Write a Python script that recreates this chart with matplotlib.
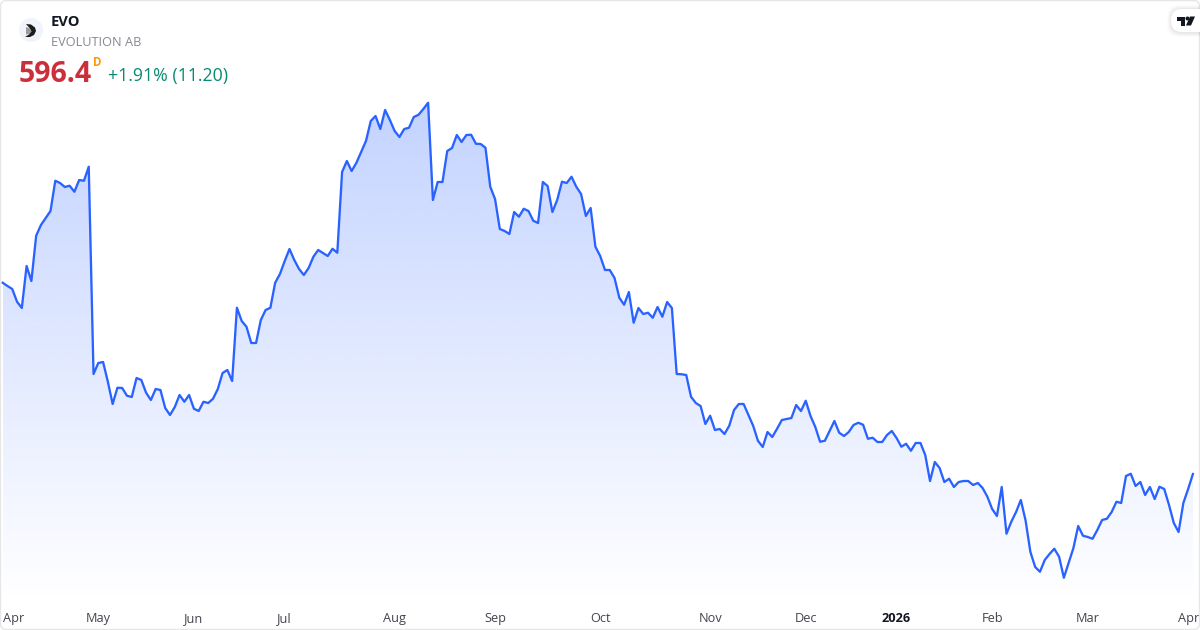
import numpy as np
import matplotlib
matplotlib.use('Agg')
import matplotlib.pyplot as plt
from matplotlib.colors import to_rgb
from matplotlib.patches import Circle, FancyBboxPatch, Polygon

plt.rcParams['font.family'] = ['Open Sans', 'DejaVu Sans']

# Daily closes, split by month label
apr_25 = [749.4, 746.8, 744.4, 734.2, 729.2, 762.8, 750.8, 787.0, 795.6, 801.2,
          806.8, 831.0, 829.2, 826.0, 827.0, 822.2, 831.6, 831.0, 842.2, 676.4]
may_25 = [685.2, 686.0, 670.2, 652.4, 665.4, 665.2, 659.0, 658.0, 673.2, 671.6,
          661.4, 655.6, 664.4, 663.6, 649.2, 643.6, 650.0, 659.6, 654.2, 659.6]
jun_25 = [648.6, 646.8, 654.2, 653.2, 656.6, 664.4, 677.2, 679.6, 670.8, 729.4,
          718.8, 714.2, 701.2, 701.2, 719.6, 727.6, 729.4, 749.4, 756.4]
jul_25 = [766.8, 776.4, 767.6, 760.4, 755.6, 761.2, 770.2, 775.6, 773.2, 770.8,
          776.6, 773.4, 838.0, 846.8, 838.8, 845.4, 854.0, 862.8, 878.8, 882.8,
          872.4, 887.6, 879.6]
aug_25 = [870.8, 866.0, 872.4, 873.4, 882.0, 883.8, 888.4, 893.4, 815.6, 830.0,
          830.0, 854.8, 857.2, 867.6, 862.0, 867.6, 867.8, 860.6, 860.4, 857.4,
          826.2]
sep_25 = [816.4, 792.4, 790.8, 788.4, 806.0, 802.2, 808.6, 806.8, 799.0, 797.2,
          830.0, 826.8, 806.0, 815.6, 830.2, 829.2, 834.2, 826.2, 820.4, 802.8,
          809.2, 778.2]
oct_25 = [770.8, 759.6, 759.6, 753.2, 737.4, 731.8, 742.0, 717.4, 729.2, 724.4,
          725.4, 721.4, 730.0, 722.2, 734.0, 729.2, 676.4, 676.2, 675.6, 658.2,
          653.2, 650.8, 636.4]
nov_25 = [643.0, 631.6, 632.4, 628.4, 635.0, 647.6, 652.4, 652.4, 643.6, 635.0,
          623.0, 618.0, 630.0, 626.0, 632.6, 639.6, 640.4, 641.2, 651.6, 646.8]
dec_25 = [655.0, 642.8, 634.0, 622.2, 623.0, 630.8, 638.8, 629.4, 626.8, 630.0,
          635.6, 637.4, 635.8, 624.6, 625.4, 622.0, 622.0, 627.6, 630.8]
jan_26 = [625.2, 618.2, 620.6, 615.0, 621.2, 621.2, 611.6, 590.8, 606.0, 601.2,
          590.0, 592.6, 586.0, 590.0, 590.8, 590.8, 587.6, 589.2, 585.2, 578.2]
feb_26 = [568.4, 562.8, 586.0, 548.6, 558.2, 566.0, 575.6, 559.0, 534.0, 522.0,
          518.2, 527.6, 532.4, 536.6, 530.2, 513.4, 525.2, 537.2, 554.8, 547.0]
mar_26 = [546.0, 544.6, 551.6, 559.6, 560.6, 566.0, 574.2, 573.2, 594.8, 596.6,
          586.8, 590.0, 579.6, 586.0, 576.4, 586.2, 584.4, 571.6, 557.2, 550.0,
          573.2]
apr_26 = [584.4, 596.4]

months = [apr_25, may_25, jun_25, jul_25, aug_25, sep_25, oct_25, nov_25,
          dec_25, jan_26, feb_26, mar_26, apr_26]
month_labels = ['Apr', 'May', 'Jun', 'Jul', 'Aug', 'Sep', 'Oct', 'Nov', 'Dec',
                '2026', 'Feb', 'Mar', 'Apr']

closes = np.concatenate(months)
bars = np.arange(len(closes))
month_starts = np.cumsum([0] + [len(m) for m in months[:-1]])

LINE = '#2962ff'
INK = '#131722'

fig = plt.figure(figsize=(12, 6.3), dpi=100, facecolor='white')
ax = fig.add_axes([0, 0, 1, 1])
for side in ax.spines.values():
    side.set_visible(False)
ax.yaxis.set_visible(False)

# Area gradient, clipped to the shape under the line
floor = 493.0
area = ax.fill_between(bars, closes, floor, color='none', linewidth=0)
ramp = np.linspace(0.28, 0.0, 256).reshape(-1, 1)
rgba = np.zeros((256, 1, 4))
rgba[..., :3] = to_rgb(LINE)
rgba[..., 3] = ramp
img = ax.imshow(rgba, extent=[bars[0], bars[-1], floor, closes.max()], aspect='auto',
                interpolation='bilinear', zorder=1)
img.set_clip_path(area.get_paths()[0], transform=ax.transData)
ax.set_xlim(-2.7 / 4.78, (1200 - 2.7) / 4.78)
ax.set_ylim(471.6, 975.6)

ax.plot(bars, closes, color=LINE, linewidth=1.65, zorder=2, solid_joinstyle='round')

ax.set_xticks(month_starts)
ax.set_xticklabels(month_labels, fontsize=9.2, color='#42454e')
ax.tick_params(axis='x', direction='in', length=0, pad=-5.5)
for lab, name in zip(ax.get_xticklabels(), month_labels):
    lab.set_va('baseline')
    if name == '2026':
        lab.set_fontweight('bold')
        lab.set_color(INK)
ax.get_xticklabels()[0].set_ha('left')

# Overlay in pixels for the header, logo and frame
ov = fig.add_axes([0, 0, 1, 1], facecolor='none')
ov.set_xlim(0, 1200)
ov.set_ylim(630, 0)
ov.axis('off')

ov.add_patch(FancyBboxPatch((0.5, 0.5), 1199, 629, boxstyle='round,pad=0,rounding_size=6',
                            fc='none', ec='#e6e6e6', lw=1))

# symbol logo
ov.add_patch(Circle((31, 30), 12, fc='#f0f3fa', ec='none'))
ov.add_patch(Polygon([[26, 27], [30, 28.5], [31.5, 31.5], [29.5, 34], [26, 34.5]],
                     fc='#9a9a9a', ec='none'))
ov.add_patch(Polygon([[26, 24], [31, 24.5], [35, 27.5], [36, 31], [34, 35], [30, 37], [25, 37],
                      [29, 34.5], [31.5, 31.5], [30, 28.5]], fc='#1c1c1c', ec='none'))

ov.text(51, 21.5, 'EVO', fontsize=10.6, fontweight='bold', color=INK, va='center', ha='left')
ov.text(51, 42, 'EVOLUTION AB', fontsize=9.2, color='#868993', va='center', ha='left')
ov.text(19, 74, '596.4', fontsize=20.5, fontweight='bold', color='#cc2f3c', va='center', ha='left')
ov.text(93, 62, 'D', fontsize=8.3, fontweight='bold', color='#ff9800', va='center', ha='left')
ov.text(108, 75.5, '+1.91% (11.20)', fontsize=12.8, color='#0a8a72', va='center', ha='left')

# TradingView tab with a soft shadow
for grow, alpha in [(4, 0.012), (3, 0.018), (2, 0.025), (1, 0.03)]:
    ov.add_patch(FancyBboxPatch((1171 - grow, 9 - grow), 60 + 2 * grow, 23 + 2 * grow + 1,
                                boxstyle='round,pad=0,rounding_size=12',
                                fc='#000000', ec='none', alpha=alpha))
ov.add_patch(FancyBboxPatch((1171, 9), 60, 23, boxstyle='round,pad=0,rounding_size=11',
                            fc='white', ec='none'))
ov.add_patch(Polygon([[1177, 16.5], [1185, 16.5], [1185, 25.5], [1181, 25.5], [1181, 20.5], [1177, 20.5]],
                     fc='#131722', ec='none'))
ov.add_patch(Circle((1187.5, 18.5), 2, fc='#131722', ec='none'))
ov.add_patch(Polygon([[1190, 16.5], [1195, 16.5], [1191, 25.5], [1186, 25.5]], fc='#131722', ec='none'))

fig.savefig('out.png', dpi=100)
